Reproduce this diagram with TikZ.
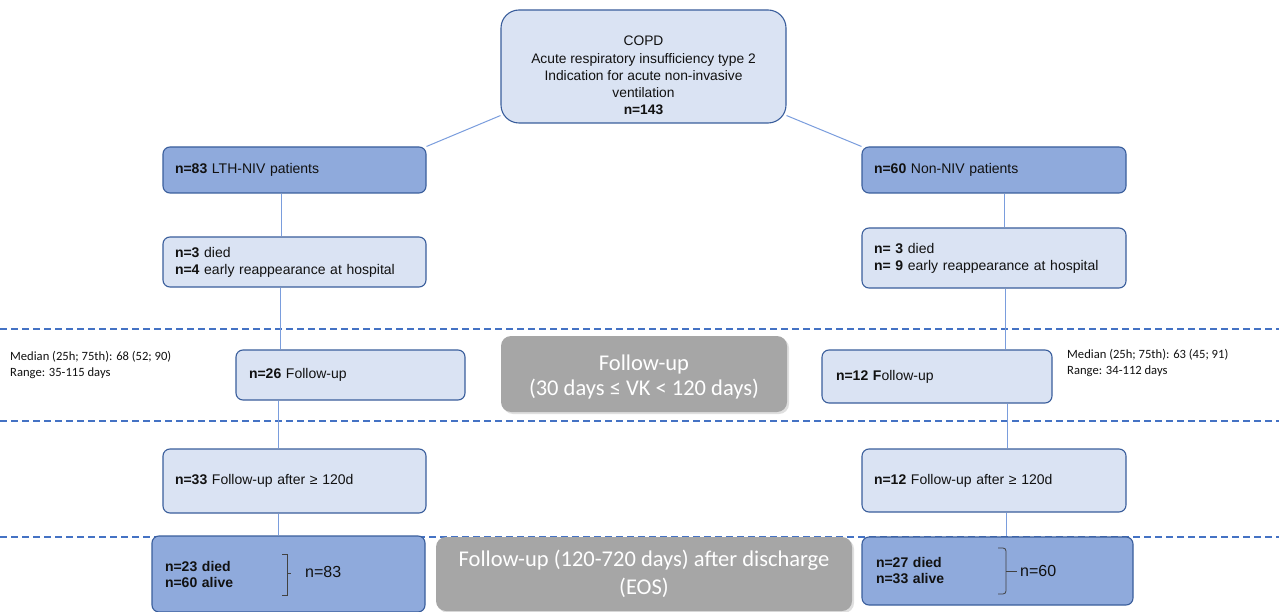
\documentclass[tikz,border=0pt]{standalone}
\usepackage{fontspec}
\setmainfont{Liberation Sans}
\newfontfamily\calfont{Carlito}
\usetikzlibrary{shadows}
\definecolor{lightfill}{HTML}{DAE3F3}
\definecolor{darkfill}{HTML}{8FAADC}
\definecolor{bdr}{HTML}{3A5E9C}
\definecolor{conncol}{HTML}{7A9DDD}
\definecolor{sepblue}{HTML}{4472C4}
\definecolor{grayfill}{HTML}{A6A6A6}
\definecolor{txt}{HTML}{111111}
\tikzset{
  base/.style={draw=bdr, line width=1.1pt, rounded corners=7pt, inner ysep=0pt, text=txt,
    font=\fontsize{14}{17}\selectfont, align=left},
  light/.style={base, fill=lightfill},
  dark/.style={base, fill=darkfill},
  conn/.style={draw=conncol, line width=1pt},
  sepline/.style={draw=sepblue, line width=1.3pt, dash pattern=on 7pt off 4pt},
  graybox/.style={fill=grayfill, rounded corners=10pt, text=white, align=center, inner sep=0pt,
    drop shadow={opacity=0.25, shadow xshift=2pt, shadow yshift=-2pt}},
  note/.style={font=\calfont\fontsize{12.6}{16}\selectfont, text=txt, align=left, anchor=north west, inner sep=0pt},
  brk/.style={draw=txt!80, line width=0.8pt},
  blab/.style={font=\fontsize{16}{18}\selectfont, text=txt, inner sep=0pt, anchor=west}
}
\begin{document}
\begin{tikzpicture}[x=1pt,y=-1pt]
\useasboundingbox[fill=white] (0,0) rectangle (1279,612);

% dashed separators
\draw[sepline] (0,329) -- (1279,329);
\draw[sepline] (0,421) -- (1279,421);
\draw[sepline] (0,537) -- (1279,537);

% top box
\node[light, rounded corners=18pt, minimum width=285pt, minimum height=113pt] (top) at (643.5,66.5) {};
\node[font=\fontsize{13.8}{17.2}\selectfont, text=txt, align=center, inner sep=0pt] (toptext) at (643.5,75.5)
  {COPD\\Acute respiratory insufficiency type 2\\Indication for acute non-invasive\\ventilation\\\textbf{n=143}};

% left column
\node[dark, minimum width=263pt, minimum height=46pt, text width=239pt, inner xsep=12pt] (lth) at (294.5,170)
  {\textbf{n=83} LTH-NIV patients};
\node[light, minimum width=263pt, minimum height=50pt, text width=239pt, inner xsep=12pt] (ld) at (294.5,262)
  {\textbf{n=3} died\\\textbf{n=4} early reappearance at hospital};
\node[light, minimum width=229pt, minimum height=50pt, text width=203pt, inner xsep=13pt] (lf) at (350.5,375)
  {\textbf{n=26} Follow-up};
\node[light, minimum width=263pt, minimum height=64pt, text width=239pt, inner xsep=12pt] (la) at (294.5,481)
  {\textbf{n=33} Follow-up after ≥ 120d};
\node[dark, minimum width=273pt, minimum height=76pt, text width=247pt, inner xsep=13pt,
  font=\bfseries\fontsize{14}{16}\selectfont] (lb) at (288.5,574)
  {n=23 died\\n=60 alive};

% right column
\node[dark, minimum width=264pt, minimum height=46pt, text width=240pt, inner xsep=12pt] (rn) at (994,170)
  {\textbf{n=60} Non-NIV patients};
\node[light, minimum width=264pt, minimum height=60pt, text width=240pt, inner xsep=12pt] (rd) at (994,258)
  {\textbf{n= 3} died\\\textbf{n= 9} early reappearance at hospital};
\node[light, minimum width=230pt, minimum height=53pt, text width=202pt, inner xsep=14pt] (rf) at (937,376.5)
  {\textbf{n=12 F}ollow-up};
\node[light, minimum width=264pt, minimum height=63pt, text width=240pt, inner xsep=12pt] (ra) at (994,480.5)
  {\textbf{n=12} Follow-up after ≥ 120d};
\node[dark, minimum width=271pt, minimum height=68pt, text width=243pt, inner xsep=14pt,
  font=\bfseries\fontsize{14}{16}\selectfont] (rb) at (997.5,571)
  {n=27 died\\n=33 alive};

% gray boxes
\node[graybox, minimum width=286pt, minimum height=76pt, font=\calfont\fontsize{22.5}{25}\selectfont] (g1) at (644,374)
  {\rule{0pt}{21.5pt}Follow-up\\(30 days ≤ VK < 120 days)};
\node[graybox, minimum width=416pt, minimum height=74pt, font=\calfont\fontsize{22.5}{28}\selectfont] (g2) at (644,574)
  {Follow-up (120-720 days) after discharge\\(EOS)};

% notes
\node[note] (nl) at (10,351) {Median (25h; 75th): 68 (52; 90)\\Range: 35-115 days};
\node[note] (nr) at (1067,349) {Median (25h; 75th): 63 (45; 91)\\Range: 34-112 days};

% connectors
\draw[conn] ([yshift=8pt]top.south west) -- (lth.north east);
\draw[conn] ([yshift=8pt]top.south east) -- (rn.north west);
\coordinate (lx1) at (281,0);
\coordinate (lx2) at (280,0);
\coordinate (lx3) at (278,0);
\coordinate (rx1) at (1004,0);
\coordinate (rx2) at (1005,0);
\coordinate (rx3) at (1007,0);
\coordinate (rx4) at (1006,0);
\draw[conn] (lth.south -| lx1) -- (ld.north -| lx1);
\draw[conn] (ld.south -| lx2) -- (lf.north -| lx2);
\draw[conn] (lf.south -| lx3) -- (la.north -| lx3);
\draw[conn] (la.south -| lx3) -- (lb.north -| lx3);
\draw[conn] (rn.south -| rx1) -- (rd.north -| rx1);
\draw[conn] (rd.south -| rx2) -- (rf.north -| rx2);
\draw[conn] (rf.south -| rx3) -- (ra.north -| rx3);
\draw[conn] (ra.south -| rx4) -- (rb.north -| rx4);

% brackets
\draw[brk] (282,554) -- (287,554) -- (287,595) -- (282,595);
\draw[brk] (287,573) -- (291,573);
\node[blab] (l83) at (305,572) {n=83};
\draw[brk, rounded corners=3pt] (998,548) -- (1006,548) -- (1006,594) -- (998,594);
\draw[brk] (1006,571) -- (1017,571);
\node[blab] (l60) at (1020,571) {n=60};
\end{tikzpicture}
\end{document}
